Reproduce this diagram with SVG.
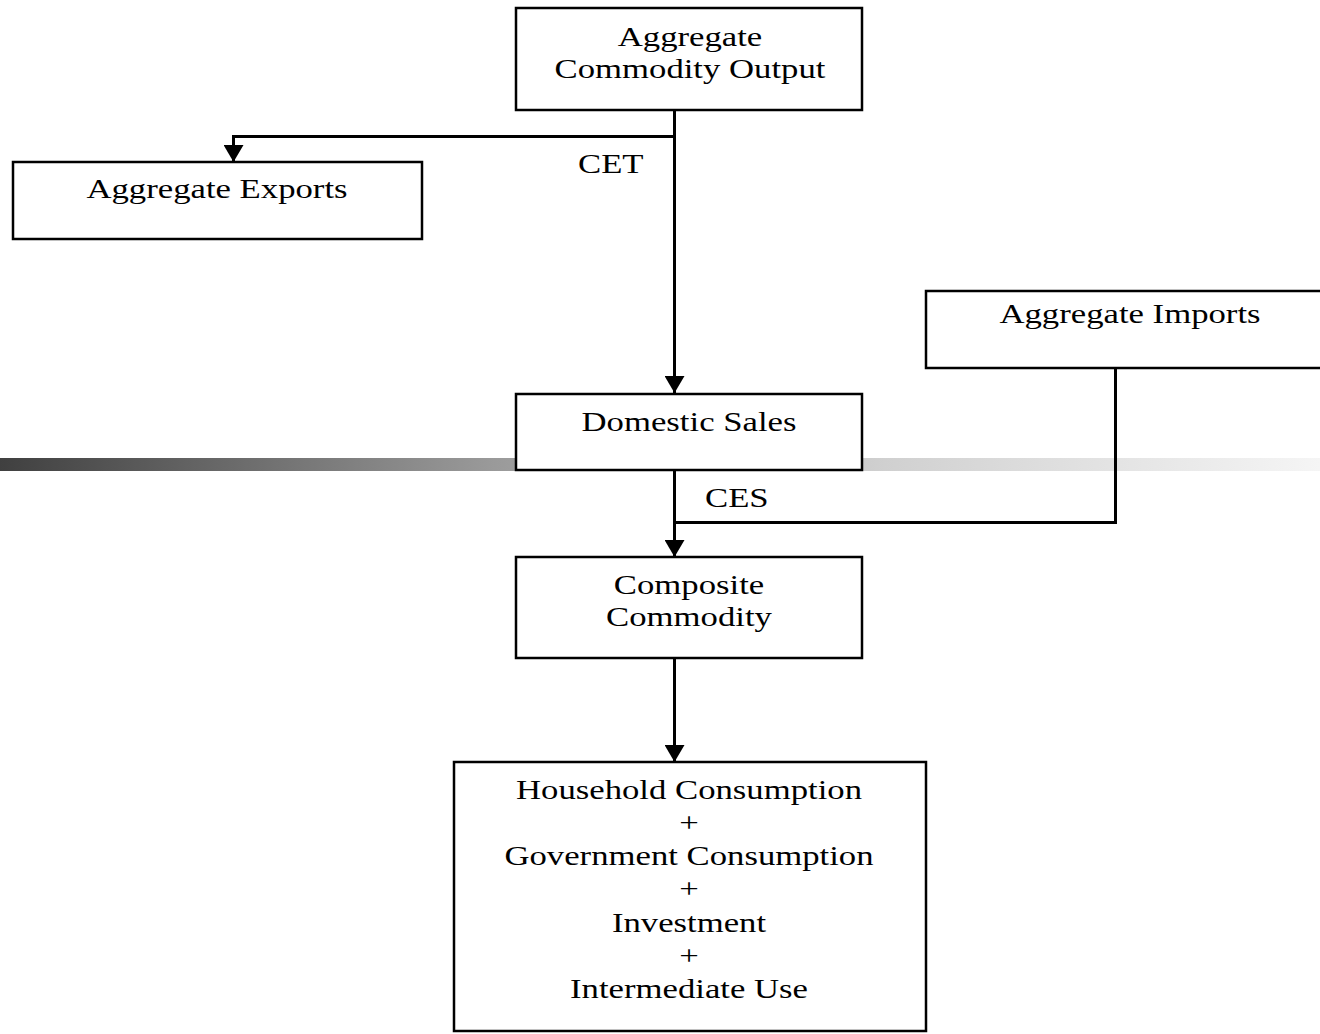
<svg xmlns="http://www.w3.org/2000/svg" width="1320" height="1034" viewBox="0 0 1320 1034">
<style>
.box{fill:#fff;stroke:#000;stroke-width:2.5}
.lbl{font-family:"Liberation Serif","Times New Roman",serif;font-size:28px;fill:#000;text-anchor:middle}
.lbls{font-family:"Liberation Serif","Times New Roman",serif;font-size:28px;fill:#000}
.con{fill:none;stroke:#000;stroke-width:3}
</style>
<defs>
<linearGradient id="bar" x1="0" y1="0" x2="1" y2="0">
<stop offset="0" stop-color="#404040"/>
<stop offset="0.37" stop-color="#999999"/>
<stop offset="0.67" stop-color="#d0d0d0"/>
<stop offset="1" stop-color="#f5f5f5"/>
</linearGradient>
<marker id="arr" markerUnits="userSpaceOnUse" markerWidth="18" markerHeight="20" refX="17" refY="10" orient="auto">
<path d="M0,0 L17,10 L0,20 Z" fill="#000"/>
</marker>
</defs>
<rect id="bar-band" x="0" y="458" width="1320" height="13" fill="url(#bar)"/>
<g id="connectors">
<path class="con" d="M674.5,110 V393" marker-end="url(#arr)"/>
<path class="con" d="M674.5,136.5 H233.5 V162" marker-end="url(#arr)"/>
<path class="con" d="M674.5,470 V557" marker-end="url(#arr)"/>
<path class="con" d="M1115.5,368 V522.5 H674.5"/>
<path class="con" d="M674.5,658 V762" marker-end="url(#arr)"/>
<text class="lbls" transform="translate(578 173) scale(1.24 1)">CET</text>
<text class="lbls" transform="translate(705 507) scale(1.24 1)">CES</text>
</g>
<g id="node-output">
<rect class="box" x="516" y="8" width="346" height="102"/>
<text class="lbl" transform="translate(690 46) scale(1.24 1)">Aggregate</text>
<text class="lbl" transform="translate(690 78) scale(1.24 1)">Commodity Output</text>
</g>
<g id="node-exports">
<rect class="box" x="13" y="162" width="409" height="77"/>
<text class="lbl" transform="translate(217 198) scale(1.24 1)">Aggregate Exports</text>
</g>
<g id="node-imports">
<rect class="box" x="926" y="291" width="408" height="77"/>
<text class="lbl" transform="translate(1130 323) scale(1.24 1)">Aggregate Imports</text>
</g>
<g id="node-domestic">
<rect class="box" x="516" y="394" width="346" height="76"/>
<text class="lbl" transform="translate(689 431) scale(1.24 1)">Domestic Sales</text>
</g>
<g id="node-composite">
<rect class="box" x="516" y="557" width="346" height="101"/>
<text class="lbl" transform="translate(689 594) scale(1.24 1)">Composite</text>
<text class="lbl" transform="translate(689 626) scale(1.24 1)">Commodity</text>
</g>
<g id="node-uses">
<rect class="box" x="454" y="762" width="472" height="269"/>
<text class="lbl" transform="translate(689 799) scale(1.24 1)">Household Consumption</text>
<text class="lbl" transform="translate(689 832) scale(1.24 1)">+</text>
<text class="lbl" transform="translate(689 865) scale(1.24 1)">Government Consumption</text>
<text class="lbl" transform="translate(689 898) scale(1.24 1)">+</text>
<text class="lbl" transform="translate(689 932) scale(1.24 1)">Investment</text>
<text class="lbl" transform="translate(689 965) scale(1.24 1)">+</text>
<text class="lbl" transform="translate(689 998) scale(1.24 1)">Intermediate Use</text>
</g>
</svg>
